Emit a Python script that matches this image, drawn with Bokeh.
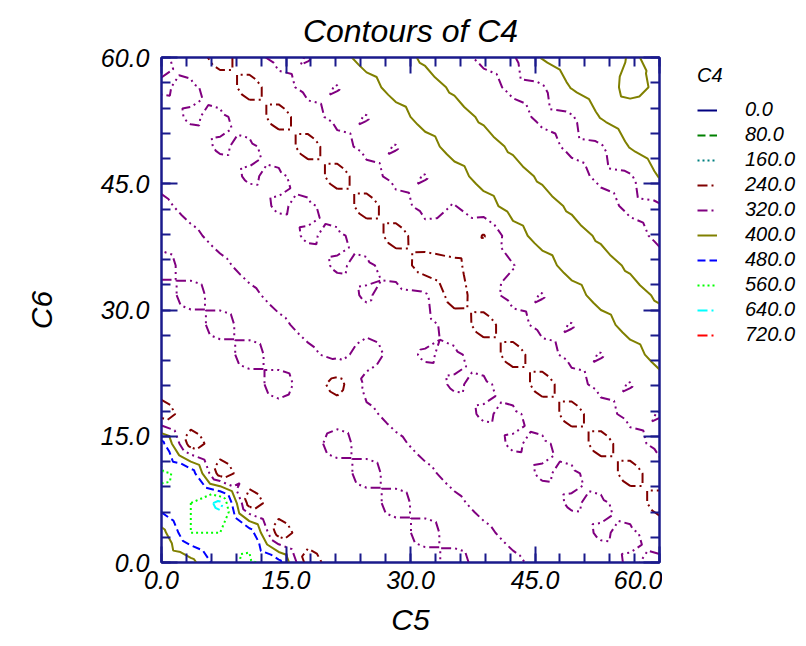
import numpy as np
from contourpy import contour_generator
from bokeh.plotting import figure
from bokeh.layouts import row
from bokeh.models import (Range1d, LinearAxis, FixedTicker, PrintfTickFormatter,
                          Legend, LegendItem)
from bokeh.embed import file_html
from bokeh.resources import INLINE

# ---- data: C4 values on an 18 x 18 grid of (C5, C6) ----
C5_nodes = np.linspace(0, 60, 18)
C6_nodes = np.linspace(0, 60, 18)

C4_rows = [
    [350, 370, 530, 575, 510, 200, 285, 295, 300, 288, 350, 288, 310, 335, 345, 335, 315, 330],
    [370, 560, 560, 530, 200, 285, 295, 300, 288, 350, 288, 310, 335, 345, 335, 315, 330, 295],
    [530, 560, 665, 200, 285, 295, 300, 288, 350, 288, 310, 335, 345, 335, 315, 330, 295, 200],
    [575, 530, 200, 285, 295, 300, 288, 350, 288, 310, 335, 345, 335, 315, 330, 295, 200, 295],
    [510, 200, 285, 295, 300, 288, 350, 288, 310, 335, 345, 335, 315, 330, 295, 200, 295, 340],
    [200, 285, 295, 300, 288, 300, 288, 310, 335, 345, 335, 315, 330, 295, 200, 295, 340, 317],
    [285, 295, 300, 288, 350, 288, 210, 335, 345, 335, 315, 330, 295, 200, 295, 340, 317, 370],
    [295, 300, 288, 350, 288, 310, 335, 300, 335, 315, 330, 295, 200, 295, 340, 317, 370, 430],
    [300, 288, 350, 288, 310, 335, 345, 335, 330, 340, 295, 200, 295, 340, 317, 370, 430, 425],
    [288, 350, 288, 310, 335, 345, 335, 315, 340, 330, 195, 295, 340, 317, 370, 430, 425, 390],
    [350, 288, 310, 335, 345, 335, 315, 330, 295, 195, 215, 310, 317, 370, 430, 425, 390, 345],
    [288, 310, 335, 345, 335, 315, 330, 295, 200, 295, 310, 235, 370, 430, 425, 390, 345, 305],
    [310, 335, 345, 335, 315, 330, 295, 200, 295, 340, 317, 370, 430, 425, 390, 345, 305, 312],
    [335, 345, 335, 315, 330, 295, 200, 295, 340, 317, 370, 430, 425, 390, 345, 305, 312, 405],
    [345, 335, 315, 330, 295, 200, 295, 340, 317, 370, 430, 425, 390, 345, 305, 312, 405, 440],
    [335, 315, 330, 295, 200, 295, 340, 317, 370, 430, 425, 390, 345, 305, 312, 405, 440, 430],
    [315, 330, 295, 200, 295, 340, 317, 370, 430, 425, 390, 345, 305, 312, 405, 440, 375, 415],
    [330, 295, 200, 295, 340, 317, 370, 430, 425, 390, 345, 305, 312, 405, 440, 430, 395, 410],
]

LEVELS = [0.0, 80.0, 160.0, 240.0, 320.0, 400.0, 480.0, 560.0, 640.0, 720.0]
LEVEL_LABELS = ["0.0", "80.0", "160.0", "240.0", "320.0", "400.0", "480.0", "560.0", "640.0", "720.0"]
LEVEL_COLORS = ["#000080", "#008000", "#008080", "#800000", "#800080",
                "#808000", "#0000FF", "#00FF00", "#00FFFF", "#FF0000"]
LEVEL_DASHES = ["solid", "8 4", "2 3", "10 4 2 4", "10 4 2 4 2 4",
                "solid", "8 4", "2 3", "10 4 2 4", "10 4 2 4 2 4"]

MAJOR_TICKS = [0, 15, 30, 45, 60]
MINOR_TICKS = [0, 3, 6, 9, 12, 15, 18, 21, 24, 27, 30, 33, 36, 39, 42, 45, 48, 51, 54, 57, 60]

NAVY = "#1a1a8c"
FONT = "Liberation Sans"
H = 644

Z = np.array(C4_rows, dtype=float)
gen = contour_generator(C5_nodes, C6_nodes, Z, name="serial", quad_as_tri=True,
                        line_type="Separate")

p = figure(width=662, height=H, x_range=Range1d(0, 60), y_range=Range1d(0, 60),
           output_backend="svg", toolbar_location=None,
           min_border_left=161, min_border_right=3, min_border_top=57, min_border_bottom=H - 562,
           title="Contours of C4")
p.xgrid.visible = False
p.ygrid.visible = False
p.outline_line_color = NAVY
p.outline_line_width = 2
p.background_fill_color = "white"

p.title.align = "center"
p.title.text_font = FONT
p.title.text_font_style = "italic"
p.title.text_font_size = "32px"
p.title.text_color = "black"
p.title.standoff = 18


def style_axis(ax, show_labels):
    ax.ticker = FixedTicker(ticks=MAJOR_TICKS, minor_ticks=MINOR_TICKS)
    ax.formatter = PrintfTickFormatter(format="%.1f")
    ax.axis_line_color = NAVY
    ax.axis_line_width = 2
    ax.major_tick_line_color = NAVY
    ax.major_tick_line_width = 2
    ax.major_tick_in = 16
    ax.major_tick_out = 0
    ax.minor_tick_line_color = NAVY
    ax.minor_tick_line_width = 2
    ax.minor_tick_in = 9
    ax.minor_tick_out = 0
    ax.major_label_text_font = FONT
    ax.major_label_text_font_style = "italic"
    ax.major_label_text_color = "black"
    if show_labels:
        ax.major_label_text_font_size = "25px"
        ax.axis_label_text_font = FONT
        ax.axis_label_text_font_style = "italic"
        ax.axis_label_text_font_size = "30px"
        ax.axis_label_text_color = "black"
    else:
        ax.major_label_text_font_size = "0px"
        ax.major_label_standoff = 0
        ax.major_label_text_alpha = 0


xa = p.xaxis[0]
ya = p.yaxis[0]
style_axis(xa, True)
style_axis(ya, True)
xa.axis_label = "C5"
ya.axis_label = "C6"
xa.major_label_standoff = 8
xa.axis_label_standoff = 11
ya.major_label_standoff = 12
ya.axis_label_standoff = 40

top_ax = LinearAxis()
right_ax = LinearAxis()
style_axis(top_ax, False)
style_axis(right_ax, False)
p.add_layout(top_ax, "above")
p.add_layout(right_ax, "right")

# legend panel: a second, axis-less figure to the right of the chart
lg = figure(width=140, height=H, x_range=Range1d(0, 1), y_range=Range1d(0, 1),
            output_backend="svg", toolbar_location=None, x_axis_type=None, y_axis_type=None,
            min_border=0, min_border_left=0, min_border_right=0, min_border_top=0,
            min_border_bottom=0)
lg.xgrid.visible = False
lg.ygrid.visible = False
lg.outline_line_color = None

items = []
for lvl, lab, col, dash in zip(LEVELS, LEVEL_LABELS, LEVEL_COLORS, LEVEL_DASHES):
    xs, ys = [], []
    for seg in gen.lines(lvl):
        xs.append(seg[:, 0].tolist())
        ys.append(seg[:, 1].tolist())
    p.multi_line(xs=xs, ys=ys, line_color=col, line_dash=dash, line_width=2)
    # style sample for the legend (no data drawn)
    sample = lg.multi_line(xs=[[np.nan]], ys=[[np.nan]], line_color=col, line_dash=dash,
                           line_width=2)
    items.append(LegendItem(label=lab, renderers=[sample]))

legend = Legend(items=items, title="C4", location=(35, 215), orientation="vertical",
                border_line_color=None, background_fill_alpha=0, padding=5, margin=0,
                spacing=0, label_height=25, glyph_height=20, glyph_width=20,
                label_standoff=28, label_text_font=FONT, label_text_font_style="italic",
                label_text_font_size="20px", label_text_color="black",
                title_text_font=FONT, title_text_color="black",
                title_text_font_style="italic", title_text_font_size="20px",
                title_standoff=10)
lg.add_layout(legend, "center")

layout = row(p, lg)
open("out.html", "w").write(file_html(layout, INLINE))
